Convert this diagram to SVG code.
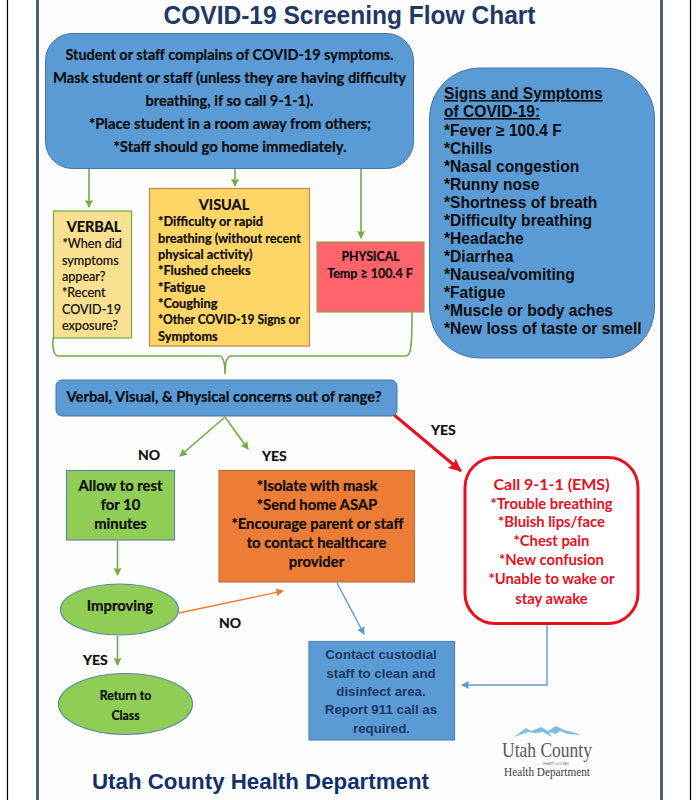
<svg xmlns="http://www.w3.org/2000/svg" width="699" height="800" viewBox="0 0 699 800">
<defs>
<marker id="ag" markerWidth="9" markerHeight="9" refX="7" refY="4" orient="auto" markerUnits="userSpaceOnUse"><path d="M0 0L8 4L0 8L1 4Z" fill="#70ad47"/></marker>
<marker id="ab" markerWidth="9" markerHeight="9" refX="7" refY="4" orient="auto" markerUnits="userSpaceOnUse"><path d="M0 0L8 4L0 8L1 4Z" fill="#5b9bd5"/></marker>
<marker id="ao" markerWidth="9" markerHeight="9" refX="7" refY="4" orient="auto" markerUnits="userSpaceOnUse"><path d="M0 0L8 4L0 8L1 4Z" fill="#ed7d31"/></marker>
<marker id="ar" markerWidth="14" markerHeight="12" refX="12" refY="6" orient="auto" markerUnits="userSpaceOnUse"><path d="M0 0L13 6L0 12L2 6Z" fill="#e8101e"/></marker>
</defs>
<style>
text{font-family:"Lato","Open Sans","Liberation Sans",sans-serif;font-weight:700;fill:#0b0b0b;font-size:14.800px}
.c{text-anchor:middle}
.ar{font-family:"Liberation Sans",Arial,sans-serif}
.nv{fill:#1f3864}
.blue{fill:#5b9bd5;stroke:#44769f;stroke-width:1}
.g{fill:none;stroke:#70ad47;stroke-width:1.6}
.sg{font-size:15.600px}
.rd{fill:#e8101e;font-size:14.800px}
.vis{font-size:12.800px;stroke:#0b0b0b;stroke-width:.2}
.ver{font-size:12.600px;font-weight:400;stroke:#0b0b0b;stroke-width:.2}
.bk{stroke:#0b0b0b;stroke-width:.2}
.ct{font-size:13.300px}
</style>
<rect width="699" height="800" fill="#fff"/>
<rect x="40" y="0" width="621" height="800" fill="#fdfdfd"/>
<g id="frame" fill="none">
<path d="M7.5 0V800M690.5 0V800" stroke="#000" stroke-width="1.2"/>
<path d="M37.5 0V800M661.5 0V800" stroke="#4a5f7d" stroke-width="3"/>
</g>
<text x="349.500" y="24" class="c ar nv" style="font-size:25.500px" textLength="372" lengthAdjust="spacingAndGlyphs">COVID-19 Screening Flow Chart</text>

<g id="connectors">
<path class="g" d="M89 168V207" marker-end="url(#ag)"/>
<path class="g" d="M235 168V186" marker-end="url(#ag)"/>
<path class="g" d="M361 168V238" marker-end="url(#ag)"/>
<path class="g" d="M53.500 337C52 345 53 355 58 356H219C224 356 225 365 225 374C225 365 226 356 231 356H406C411 356 412 345 412 312"/>
<path class="g" d="M225 417L180 456" marker-end="url(#ag)"/>
<path class="g" d="M225 417L248 449" marker-end="url(#ag)"/>
<path d="M393 414L461 471" fill="none" stroke="#e8101e" stroke-width="3" marker-end="url(#ar)"/>
<path class="g" d="M117.500 541V575" marker-end="url(#ag)"/>
<path class="g" d="M117.500 636V665" marker-end="url(#ag)"/>
<path d="M179 613L283 591" fill="none" stroke="#ed7d31" stroke-width="1.4" marker-end="url(#ao)"/>
<path d="M337 583L364 634" fill="none" stroke="#5b9bd5" stroke-width="1.4" marker-end="url(#ab)"/>
<path d="M547 625V685H462" fill="none" stroke="#5b9bd5" stroke-width="1.4" marker-end="url(#ab)"/>
</g>

<g id="start">
<rect class="blue" x="45.500" y="33.500" width="368" height="135" rx="27"/>
<text class="c bk" x="229.500" y="60" textLength="328" lengthAdjust="spacingAndGlyphs">Student or staff complains of COVID-19 symptoms.</text>
<text class="c bk" x="229.500" y="83" textLength="353" lengthAdjust="spacingAndGlyphs">Mask student or staff (unless they are having difficulty</text>
<text class="c bk" x="229.500" y="106" textLength="168" lengthAdjust="spacingAndGlyphs">breathing, if so call 9-1-1).</text>
<text class="c bk" x="230" y="129" textLength="282" lengthAdjust="spacingAndGlyphs">*Place student in a room away from others;</text>
<text class="c bk" x="230" y="152" textLength="233" lengthAdjust="spacingAndGlyphs">*Staff should go home immediately.</text>
</g>

<g id="verbal">
<rect x="53.500" y="211" width="78" height="127" fill="#fae091" stroke="#70ad47" stroke-width="1.2"/>
<text class="c bk" x="94" y="231.500" style="font-size:14.500px">VERBAL</text>
<text class="ver" x="62.500" y="248">*When did</text>
<text class="ver" x="62" y="264.500">symptoms</text>
<text class="ver" x="62" y="281">appear?</text>
<text class="ver" x="62" y="297">*Recent</text>
<text class="ver" x="62" y="313.500">COVID-19</text>
<text class="ver" x="62" y="330">exposure?</text>
</g>

<g id="visual">
<rect x="149.500" y="188.500" width="160" height="157.500" fill="#fed567" stroke="#c5874a" stroke-width="1.2"/>
<text class="c bk" x="224" y="209.500" style="font-size:14.500px">VISUAL</text>
<text class="vis" x="158" y="226">*Difficulty or rapid</text>
<text class="vis" x="158" y="242.500" textLength="143" lengthAdjust="spacingAndGlyphs">breathing (without recent</text>
<text class="vis" x="158" y="259">physical activity)</text>
<text class="vis" x="158" y="275">*Flushed cheeks</text>
<text class="vis" x="158" y="291.500">*Fatigue</text>
<text class="vis" x="158" y="308">*Coughing</text>
<text class="vis" x="158" y="324" textLength="142" lengthAdjust="spacingAndGlyphs">*Other COVID-19 Signs or</text>
<text class="vis" x="158" y="340.500">Symptoms</text>
</g>

<g id="physical">
<rect x="317" y="242" width="107" height="70" fill="#ff646c" stroke="#a49a5c" stroke-width="1.200"/>
<text class="c bk" x="370.500" y="261" style="font-size:12.300px">PHYSICAL</text>
<text class="c bk" x="370" y="277.500" style="font-size:12.500px">Temp ≥ 100.4 F</text>
</g>

<g id="signs">
<rect class="blue" x="429.500" y="68" width="225" height="290" rx="50"/>
<text class="ar sg" x="444" y="99" text-decoration="underline">Signs and Symptoms</text>
<text class="ar sg" x="444" y="117" text-decoration="underline">of COVID-19:</text>
<text class="ar sg" x="444" y="136">*Fever ≥ 100.4 F</text>
<text class="ar sg" x="444" y="154">*Chills</text>
<text class="ar sg" x="444" y="172">*Nasal congestion</text>
<text class="ar sg" x="444" y="190">*Runny nose</text>
<text class="ar sg" x="444" y="208">*Shortness of breath</text>
<text class="ar sg" x="444" y="226">*Difficulty breathing</text>
<text class="ar sg" x="444" y="244">*Headache</text>
<text class="ar sg" x="444" y="262">*Diarrhea</text>
<text class="ar sg" x="444" y="280">*Nausea/vomiting</text>
<text class="ar sg" x="444" y="298">*Fatigue</text>
<text class="ar sg" x="444" y="316">*Muscle or body aches</text>
<text class="ar sg" x="444" y="334">*New loss of taste or smell</text>
</g>

<g id="question">
<rect class="blue" x="56" y="380" width="341" height="36" rx="6"/>
<text class="bk" x="66.500" y="402" textLength="315" lengthAdjust="spacingAndGlyphs">Verbal, Visual, &amp; Physical concerns out of range?</text>
</g>

<g id="labels">
<text class="bk" x="138" y="460" style="font-size:14px">NO</text>
<text class="bk" x="262" y="461" style="font-size:14px">YES</text>
<text class="bk" x="431" y="435" style="font-size:14px">YES</text>
<text class="bk" x="219" y="628" style="font-size:14px">NO</text>
<text class="bk" x="83" y="665" style="font-size:14px">YES</text>
</g>

<g id="rest">
<rect x="66.500" y="470.500" width="108" height="69.500" fill="#8fcd55" stroke="#5d85a8" stroke-width="1.200"/>
<text class="c bk" x="120.500" y="490.500">Allow to rest</text>
<text class="c bk" x="120.500" y="509.500">for 10</text>
<text class="c bk" x="120.500" y="529">minutes</text>
</g>

<g id="isolate">
<rect x="219" y="470.500" width="195.500" height="111.500" fill="#ed7d36" stroke="#b5763f" stroke-width="1.200"/>
<text class="c bk" x="317" y="490.500">*Isolate with mask</text>
<text class="c bk" x="317" y="509.500">*Send home ASAP</text>
<text class="c bk" x="317.500" y="528.500">*Encourage parent or staff</text>
<text class="c bk" x="316.500" y="548">to contact healthcare</text>
<text class="c bk" x="316.500" y="567">provider</text>
</g>

<g id="improving">
<ellipse cx="119.500" cy="609.500" rx="59" ry="25.500" fill="#8fcd55" stroke="#5d85a8" stroke-width="1.200"/>
<text class="c bk" x="120" y="611">Improving</text>
</g>

<g id="return">
<ellipse cx="125.500" cy="704" rx="67" ry="30.500" fill="#8fcd55" stroke="#5d85a8" stroke-width="1.200"/>
<text class="c bk" x="125.500" y="700" style="font-size:12.300px">Return to</text>
<text class="c bk" x="125.500" y="720" style="font-size:12.300px">Class</text>
</g>

<g id="contact">
<rect x="309" y="641.500" width="145.500" height="98.500" fill="#5b9bd5" stroke="#5585ad" stroke-width="1.200"/>
<text class="c ar nv ct" x="381" y="659">Contact custodial</text>
<text class="c ar nv ct" x="381" y="677.500">staff to clean and</text>
<text class="c ar nv ct" x="381" y="696">disinfect area.</text>
<text class="c ar nv ct" x="381" y="714">Report 911 call as</text>
<text class="c ar nv ct" x="381.500" y="733">required.</text>
</g>

<g id="ems">
<rect x="465" y="457.500" width="173" height="166" rx="30" fill="#fff" stroke="#e8101e" stroke-width="3"/>
<text class="c rd" x="551.500" y="490" style="font-size:16px">Call 9-1-1 (EMS)</text>
<text class="c rd" x="551.500" y="508.500">*Trouble breathing</text>
<text class="c rd" x="551.500" y="527">*Bluish lips/face</text>
<text class="c rd" x="551.500" y="546">*Chest pain</text>
<text class="c rd" x="551.500" y="565">*New confusion</text>
<text class="c rd" x="551.500" y="584">*Unable to wake or</text>
<text class="c rd" x="551.500" y="604">stay awake</text>
</g>

<text x="92" y="789" class="ar nv" style="font-size:21.500px;fill:#12306a" textLength="337" lengthAdjust="spacingAndGlyphs">Utah County Health Department</text>

<g id="logo">
<path d="M514 737L526 728L531 731L541 727L548 731L556 726L564 730L576 733L581 735L568 734L560 731L556 734L549 732L552 737L543 732L535 733L528 732Z" fill="#7fbde6"/>
<text x="502" y="757" style="font-family:'Liberation Serif',serif;font-weight:400;font-size:21px;fill:#55585c" textLength="90" lengthAdjust="spacingAndGlyphs">Utah County</text>
<text x="543" y="765" style="font-family:'Liberation Sans',sans-serif;font-weight:400;font-size:3.500px;fill:#777">HEART of UTAH</text>
<text x="504" y="776" style="font-family:'Liberation Serif',serif;font-weight:400;font-size:11.500px;fill:#3c3c3c" textLength="86" lengthAdjust="spacingAndGlyphs">Health Department</text>
</g>
</svg>
